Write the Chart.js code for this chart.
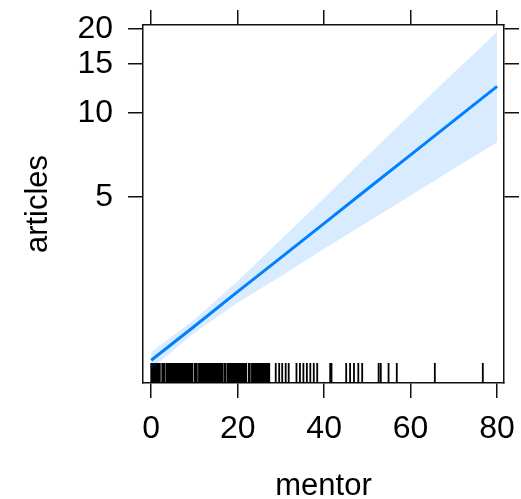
<!DOCTYPE html>
<html>
<head>
<meta charset="utf-8">
<script src="https://cdn.jsdelivr.net/npm/chart.js@4.4.0/dist/chart.umd.min.js"></script>
<style>
    html, body { margin: 0; padding: 0; background: #fff; }
    #wrap { width: 521px; height: 499px; }
</style>
</head>
<body>
<div id="wrap"><canvas id="effectChart"></canvas></div>
<script>
const mentorGrid = [0, 10, 20, 30, 40, 50, 60, 70, 80];
// fitted articles and its confidence band
const fitArticles   = [1.30, 1.72, 2.29, 3.03, 4.02, 5.34, 7.08, 9.39, 12.46];
const upperArticles = [1.39, 1.82, 2.50, 3.52, 4.96, 7.02, 9.90, 13.97, 19.5];
const lowerArticles = [1.21, 1.63, 2.09, 2.60, 3.26, 4.06, 5.06, 6.31, 7.85];

// observed (jittered) mentor values shown as a rug
const mentorRug = [
    0, 0.25, 0.5, 0.75, 1, 1.25, 1.5, 1.75, 2.0, 2.55, 2.8, 3.05,
    3.55, 3.8, 4.05, 4.3, 4.55, 4.8, 5.05, 5.3, 5.55, 5.8, 6.05, 6.3, 6.55, 6.8,
    7.05, 7.3, 7.55, 7.8, 8.05, 8.3, 8.55, 8.8, 9.05, 9.3, 9.55,
    10.1, 10.3, 10.55,
    11.05, 11.3, 11.55, 11.8, 12.05, 12.3, 12.55, 12.8, 13.05, 13.3, 13.55, 13.8,
    14.05, 14.3, 14.55, 14.8, 15.05, 15.3, 15.55, 15.8, 16.05, 16.3, 16.55,
    17.05, 17.2,
    17.7, 17.95, 18.2, 18.45, 18.7, 18.95, 19.2, 19.45, 19.7, 19.95, 20.2, 20.45,
    20.7, 20.95, 21.2, 21.45, 21.7, 21.95,
    22.55, 22.8, 23.3, 23.5, 23.75,
    24.15, 24.4, 24.65, 24.9, 25.15, 25.4, 25.65, 25.9, 26.15, 26.4, 26.65, 26.9, 27.1, 27.3,
    28.8, 29.6, 30.3, 31.1, 31.8,
    33.6, 34.4, 35.2, 36.0, 36.8, 37.6, 38.4,
    41.4, 41.7, 45.1, 46.0, 46.9, 47.9, 48.8,
    52.6, 53.1, 54.9, 56.8, 65.6, 76.7
];

const xTickValues = [0, 20, 40, 60, 80];
const yTickValues = [5, 10, 15, 20];
const xRange = [-1.9, 81.6];
const yRange = [1.077, 20.67];

Chart.defaults.font.family = '"Liberation Sans", Arial, sans-serif';
Chart.defaults.color = '#000';

const toPoints = ys => mentorGrid.map((x, i) => ({ x: x, y: ys[i] }));

// rug of observed mentor values along the bottom of the panel
const rugPlugin = {
    id: 'rug',
    beforeDatasetsDraw(chart) {
        const { ctx, chartArea, scales } = chart;
        ctx.save();
        ctx.strokeStyle = '#000';
        ctx.lineWidth = 1.8;
        ctx.beginPath();
        mentorRug.forEach(v => {
            const px = scales.x.getPixelForValue(v);
            ctx.moveTo(px, chartArea.bottom);
            ctx.lineTo(px, chartArea.bottom - 20);
        });
        ctx.stroke();
        ctx.restore();
    }
};

// fix an axis box size and drop the label overflow padding chart.js adds
function fixSize(prop, size) {
    return s => {
        s[prop] = size;
        s.paddingTop = 0;
        s.paddingBottom = 0;
        s.paddingLeft = 0;
        s.paddingRight = 0;
    };
}

const gridStyle = {
    drawOnChartArea: false,
    drawTicks: true,
    tickLength: 15,
    color: '#111',
    lineWidth: 1.5
};
const borderStyle = { display: true, color: '#111', width: 1.5 };

new Chart(document.getElementById('effectChart').getContext('2d'), {
    type: 'line',
    data: {
        datasets: [
            {
                label: 'fit',
                data: toPoints(fitArticles),
                borderColor: '#0080ff',
                borderWidth: 3,
                pointRadius: 0,
                tension: 0,
                fill: false
            },
            {
                label: 'lower',
                data: toPoints(lowerArticles),
                borderWidth: 0,
                borderColor: 'rgba(0,0,0,0)',
                pointRadius: 0,
                fill: false
            },
            {
                label: 'upper',
                data: toPoints(upperArticles),
                borderWidth: 0,
                borderColor: 'rgba(0,0,0,0)',
                backgroundColor: 'rgba(0,128,255,0.15)',
                pointRadius: 0,
                fill: '-1'
            }
        ]
    },
    options: {
        responsive: true,
        maintainAspectRatio: false,
        animation: false,
        layout: { padding: 0, autoPadding: false },
        plugins: {
            legend: { display: false },
            tooltip: { enabled: false }
        },
        scales: {
            x: {
                type: 'linear',
                position: 'bottom',
                min: xRange[0],
                max: xRange[1],
                afterBuildTicks: s => { s.ticks = xTickValues.map(v => ({ value: v })); },
                afterFit: fixSize('height', 116),
                grid: gridStyle,
                border: borderStyle,
                ticks: { font: { size: 32 }, padding: 12, maxRotation: 0 },
                title: { display: true, text: 'mentor', font: { size: 31, lineHeight: 1 }, padding: { top: 0, bottom: -3 } }
            },
            xTop: {
                type: 'linear',
                position: 'top',
                min: xRange[0],
                max: xRange[1],
                afterBuildTicks: s => { s.ticks = xTickValues.map(v => ({ value: v })); },
                afterFit: fixSize('height', 25),
                grid: gridStyle,
                border: borderStyle,
                ticks: { display: false }
            },
            y: {
                type: 'logarithmic',
                position: 'left',
                min: yRange[0],
                max: yRange[1],
                afterBuildTicks: s => { s.ticks = yTickValues.map(v => ({ value: v })); },
                afterFit: fixSize('width', 143),
                grid: gridStyle,
                border: borderStyle,
                ticks: { font: { size: 32 }, padding: 15, callback: v => String(v) },
                title: { display: true, text: 'articles', font: { size: 31, lineHeight: 1 }, padding: { top: 23, bottom: 0 } }
            },
            yRight: {
                type: 'logarithmic',
                position: 'right',
                min: yRange[0],
                max: yRange[1],
                afterBuildTicks: s => { s.ticks = yTickValues.map(v => ({ value: v })); },
                afterFit: fixSize('width', 17),
                grid: gridStyle,
                border: borderStyle,
                ticks: { display: false }
            }
        }
    },
    plugins: [rugPlugin]
});
</script>
</body>
</html>
